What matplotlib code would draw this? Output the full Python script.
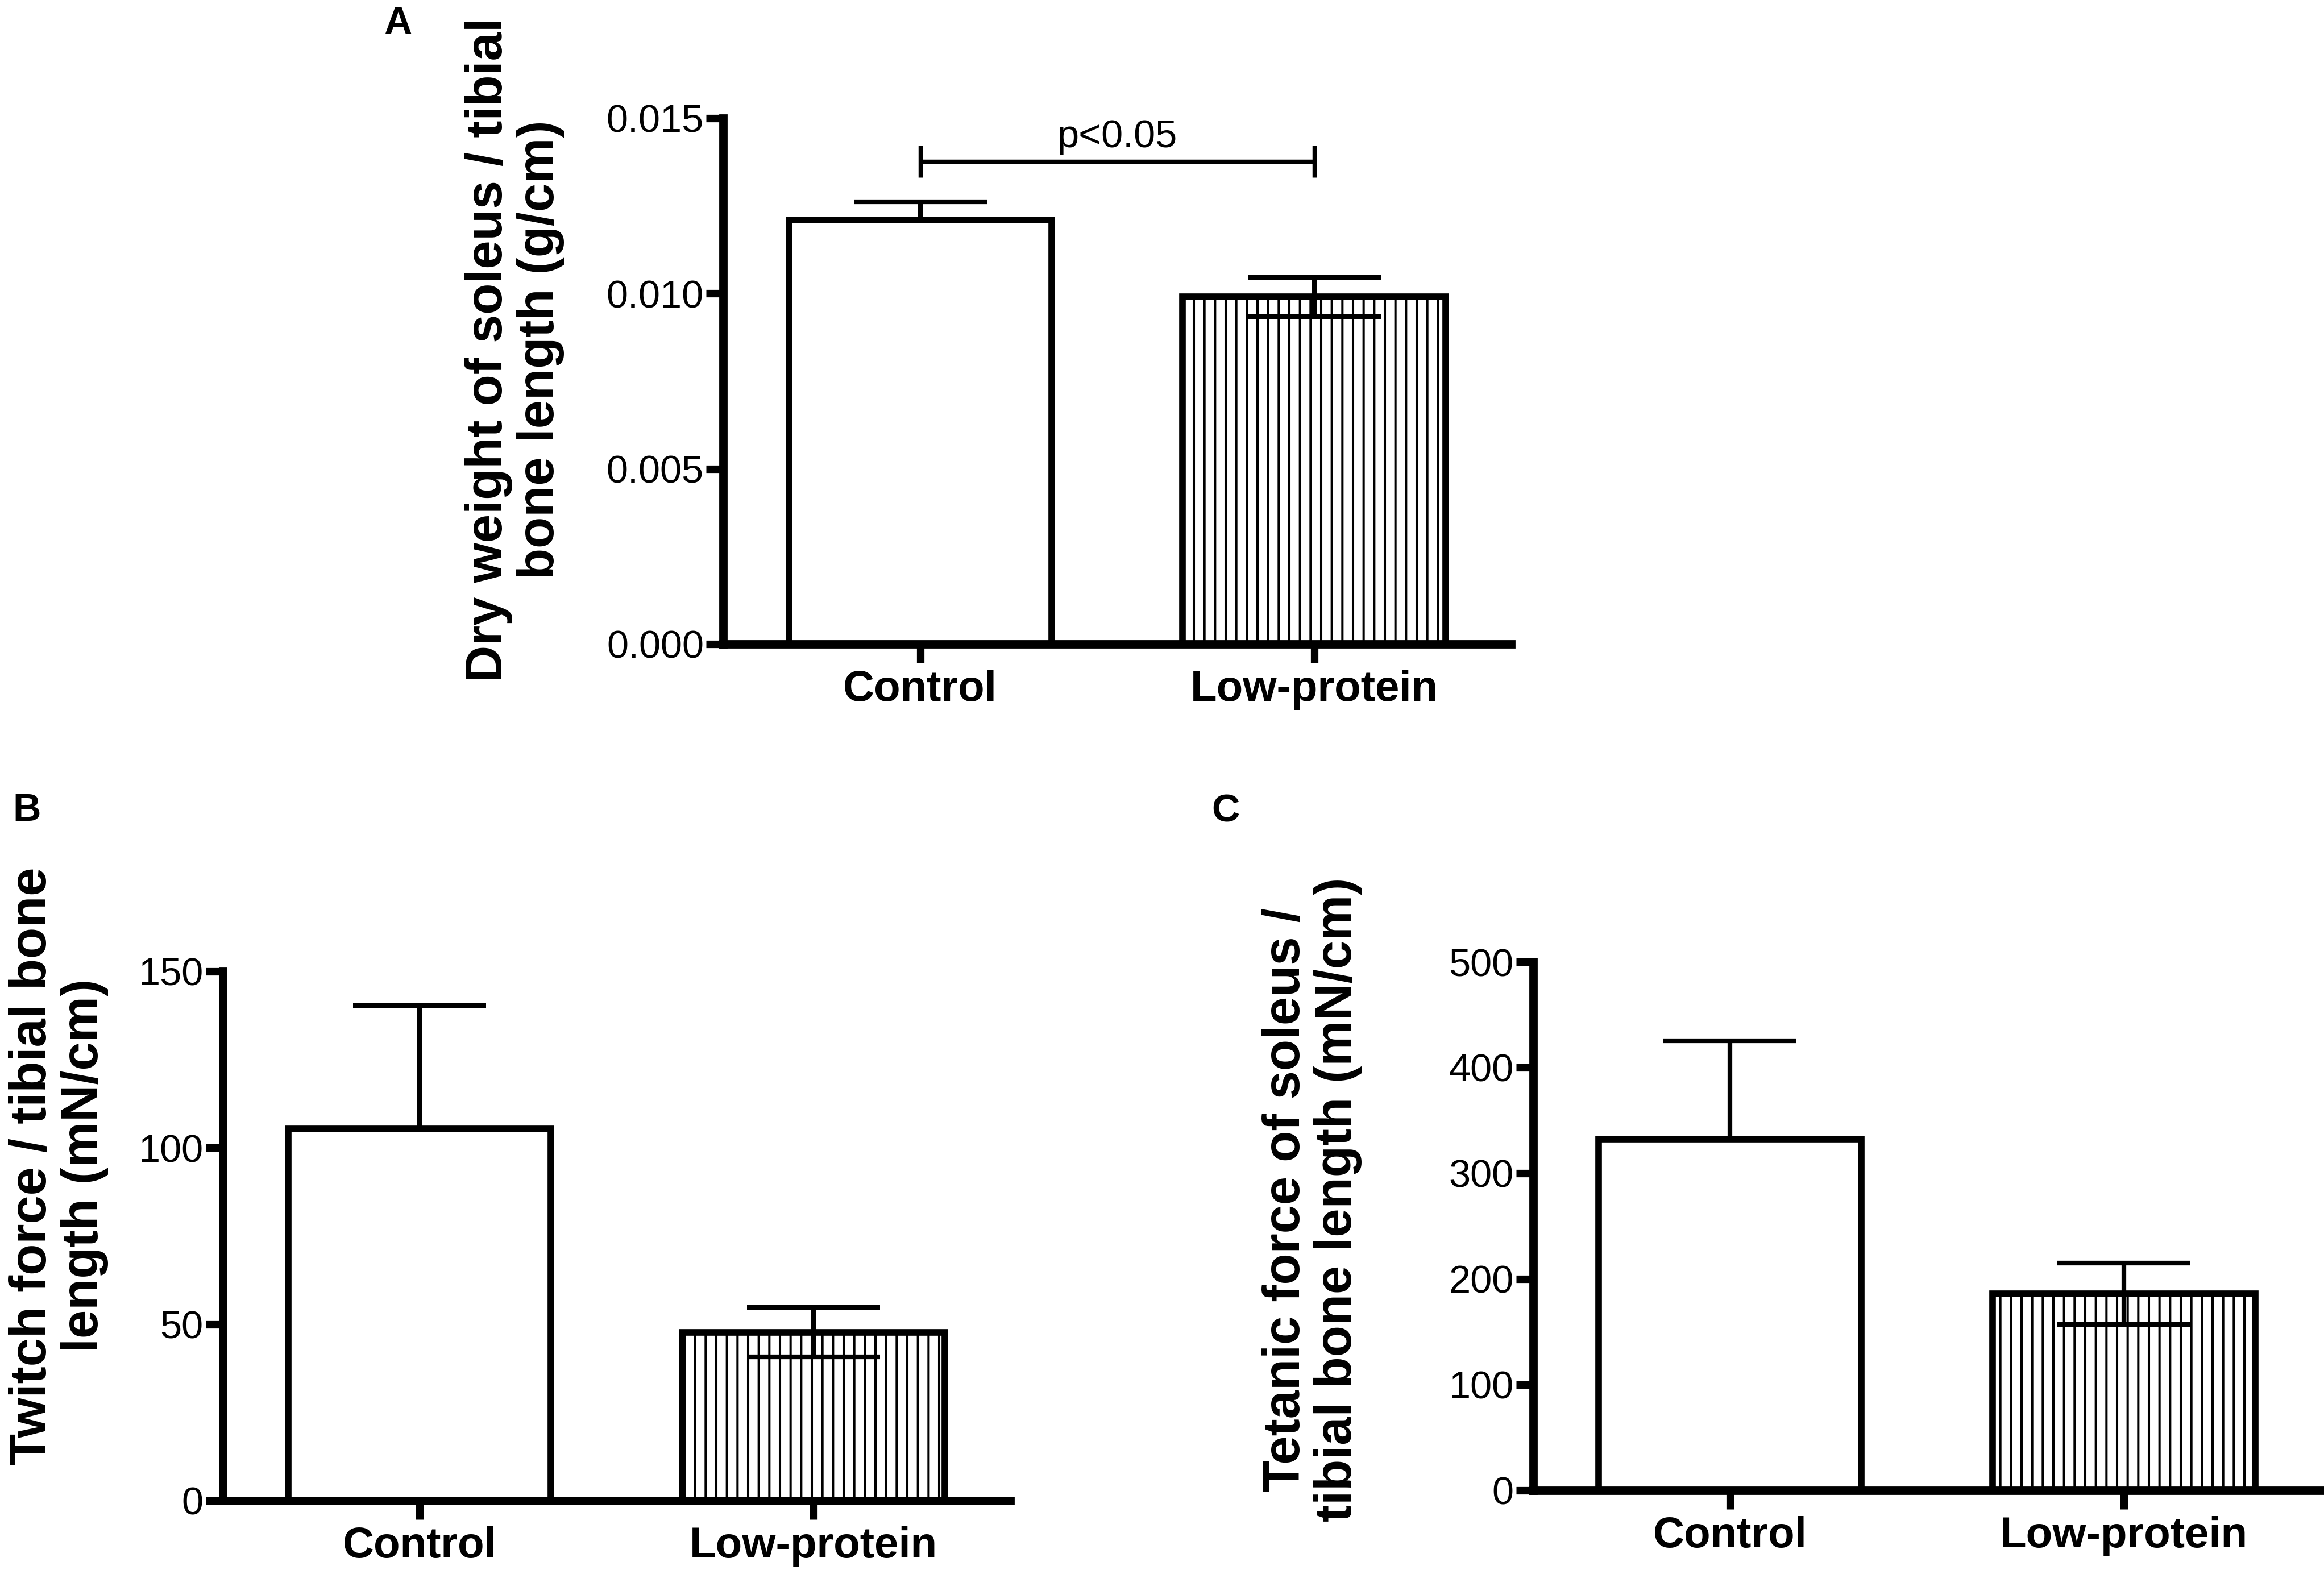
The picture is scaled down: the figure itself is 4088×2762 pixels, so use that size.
import matplotlib
matplotlib.use("Agg")
import matplotlib.pyplot as plt

# ---- data (mean, SEM) ----
groups = ["Control", "Low-protein"]
dry_mean = [0.0121, 0.0099]
dry_sem = [0.00052, 0.00056]
twitch_mean = [105.3, 47.7]
twitch_sem = [35.0, 7.0]
tetanic_mean = [332.0, 186.0]
tetanic_sem = [93.0, 29.0]

DPI = 112
plt.rcParams.update({
    "font.family": ["Liberation Sans", "DejaVu Sans"],
    "hatch.linewidth": 2.6,
    "hatch.color": "black",
})

TICK_FS, CAT_FS, LAB_FS, LET_FS = 44, 49, 58, 44
SPINE_LW, BAR_LW, ERR_LW = 9.5, 7.5, 5.3


def panel(rect, means, sems, ylim, yticks, yfmt):
    ax = fig.add_axes(rect)
    x = list(range(len(means)))
    ax.bar(x, means, width=0.667, color="white", edgecolor="black", lw=BAR_LW,
           hatch=["", "|"], zorder=2)
    # control bar shows only the upper arm, hatched bar shows both
    lower = [0] + sems[1:]
    ax.errorbar(x, means, yerr=[lower, sems], fmt="none", ecolor="black",
                elinewidth=ERR_LW, capsize=75, capthick=ERR_LW, zorder=3)
    ax.set_xlim(-0.5, 1.5)
    ax.set_ylim(*ylim)
    ax.set_yticks(yticks)
    ax.set_yticklabels([yfmt.format(v) for v in yticks])
    ax.set_xticks(x)
    ax.set_xticklabels(groups, fontsize=CAT_FS, fontweight="bold")
    for s in ("top", "right"):
        ax.spines[s].set_visible(False)
    for s in ("left", "bottom"):
        ax.spines[s].set_linewidth(SPINE_LW)
    ax.tick_params(axis="y", labelsize=TICK_FS, length=19, width=8.5, pad=3)
    ax.tick_params(axis="x", length=21, width=8.5, pad=8)
    return ax


fig = plt.figure(figsize=(4088 / DPI, 2762 / DPI), dpi=DPI)
fig.patch.set_facecolor("white")

# ---- A ----
axA = panel([0.3112, 0.5898, 0.3390, 0.3349], dry_mean, dry_sem,
            (0, 0.015), [0, 0.005, 0.010, 0.015], "{:.3f}")
axA.errorbar(0.5, 0.01376, xerr=0.5, fmt="none", ecolor="black",
             elinewidth=4.8, capsize=18, capthick=4.8, clip_on=False)
axA.text(0.5, 0.01417, "p<0.05", ha="center", va="baseline", fontsize=TICK_FS)
fig.text(0.2214, 0.7773, "Dry weight of soleus / tibial\nbone length (g/cm)",
         rotation=90, ha="center", va="center", fontsize=LAB_FS,
         fontweight="bold", linespacing=1.1)
fig.text(0.1712, 0.9848, "A", ha="center", va="center", fontsize=LET_FS, fontweight="bold")

# ---- B ----
panel([0.0959, 0.0442, 0.3388, 0.3371], twitch_mean, twitch_sem,
      (0, 150), [0, 50, 100, 150], "{:.0f}")
fig.text(0.0252, 0.2575, "Twitch force / tibial bone\nlength (mN/cm)",
         rotation=90, ha="center", va="center", fontsize=LAB_FS,
         fontweight="bold", linespacing=1.1)
fig.text(0.0115, 0.4837, "B", ha="center", va="center", fontsize=LET_FS, fontweight="bold")

# ---- C ----
panel([0.6597, 0.0507, 0.3390, 0.3367], tetanic_mean, tetanic_sem,
      (0, 500), [0, 100, 200, 300, 400, 500], "{:.0f}")
fig.text(0.5646, 0.236, "Tetanic force of soleus /\ntibial bone length (mN/cm)",
         rotation=90, ha="center", va="center", fontsize=LAB_FS,
         fontweight="bold", linespacing=1.1)
fig.text(0.5274, 0.483, "C", ha="center", va="center", fontsize=LET_FS, fontweight="bold")

fig.savefig("out.png", dpi=DPI, facecolor="white")
